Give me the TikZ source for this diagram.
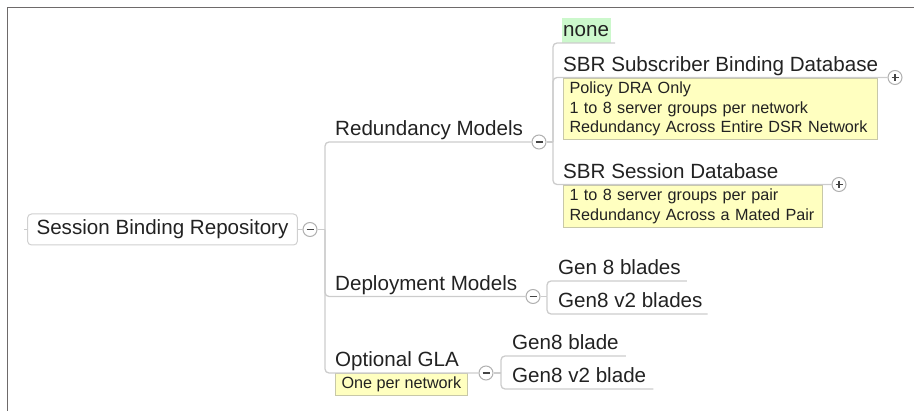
\documentclass[tikz,border=0pt]{standalone}
\usepackage{fontspec}
\setmainfont{Liberation Sans}

\definecolor{txt}{HTML}{222222}
\definecolor{linecol}{HTML}{CCCCCC}
\definecolor{boxline}{HTML}{D0D0D0}
\definecolor{foldline}{HTML}{B0B0B0}
\definecolor{signcol}{HTML}{444444}
\definecolor{notefill}{HTML}{FFFFC0}
\definecolor{notebd}{HTML}{C8C8A8}
\definecolor{nonefill}{HTML}{CCF8CC}
\definecolor{framecol}{HTML}{6E6A6A}

\tikzstyle{topic} = [inner sep=0pt, anchor=south west, text height=15pt, text depth=6pt, text=txt, font=\fontsize{20.6}{24}\selectfont]
\tikzstyle{rootbox} = [draw=boxline, line width=1pt, rounded corners=4pt, inner xsep=9pt, inner ysep=0pt, minimum height=31pt, text=txt, font=\fontsize{20.6}{24}\selectfont]
\tikzstyle{note} = [draw=notebd, line width=1pt, fill=notefill, anchor=north west, align=left, inner xsep=6pt, inner ysep=3.5pt, text=txt, font=\fontsize{16.2}{19.5}\selectfont]
\tikzstyle{branch} = [draw=linecol, line width=1.3pt, rounded corners=4pt]
\tikzstyle{fold} = [circle, draw=foldline, line width=1pt, fill=white, minimum size=14pt, inner sep=0pt]
\tikzstyle{foldminus} = [fold, path picture={\draw[signcol, line width=1.2pt] ([xshift=-3.5pt]path picture bounding box.center) -- ([xshift=3.5pt]path picture bounding box.center);}]
\tikzstyle{foldplus} = [fold, path picture={\draw[signcol, line width=1.1pt] ([xshift=-3.5pt]path picture bounding box.center) -- ([xshift=3.5pt]path picture bounding box.center) ([yshift=-3.5pt]path picture bounding box.center) -- ([yshift=3.5pt]path picture bounding box.center);}]

\begin{document}
\begin{tikzpicture}[x=1pt, y=-1pt]
      \useasboundingbox (0,0) rectangle (914,411);
      \draw[framecol, line width=1.5pt] (7.5,411) -- (7.5,7.5) -- (914,7.5);

      \node[rootbox] (sbr) at (162.5,229.5) {Session Binding Repository};
      \node[foldminus] (c0) at (310,229.5) {};
      \coordinate (j0) at (325,229.5);

      \node[topic] (red) at (335,142) {Redundancy Models};
      \node[foldminus] (c1) at (539,142) {};
      \node[topic] (dep) at (335,296.5) {Deployment Models};
      \node[foldminus] (c2) at (533,296.5) {};
      \node[topic] (gla) at (335,373) {Optional GLA};
      \node[foldminus] (c3) at (486,373) {};
      \node[note] (glanote) at (335,373) {One per network};

      \coordinate (j1) at (553,142);
      \node[topic, fill=nonefill, inner xsep=1.5pt, text height=19pt] (none) at (561.5,43) {none};
      \node[topic] (subdb) at (563,77.5) {SBR Subscriber Binding Database};
      \node[foldplus] (c4) at (895,77.5) {};
      \node[note, text width=302pt] (subnote) at (563,78) {Policy DRA Only\\1 to 8 server groups per network\\Redundancy Across Entire DSR Network};
      \node[topic] (sesdb) at (563,184.5) {SBR Session Database};
      \node[foldplus] (c5) at (839,184.5) {};
      \node[note, text width=247pt] (sesnote) at (563,185) {1 to 8 server groups per pair\\Redundancy Across a Mated Pair};

      \coordinate (j2) at (547,296.5);
      \node[topic] (gen8) at (558,281) {Gen 8 blades};
      \node[topic] (gen8v2) at (558,314) {Gen8 v2 blades};

      \coordinate (j3) at (501,373);
      \node[topic] (glagen8) at (512,356) {Gen8 blade};
      \node[topic] (glagen8v2) at (512,389) {Gen8 v2 blade};

      \draw[branch] (sbr.west) -- ++(-3,0);
      \draw[branch] (sbr.east) -- (c0.west);
      \draw[branch] (c0.east) -- (j0);
      \draw[branch] (j0) |- (c1.west);
      \draw[branch] (j0) |- (c2.west);
      \draw[branch] (j0) |- (c3.west);

      \draw[branch] (c1.east) -- (j1);
      \draw[branch] (j1) |- ([xshift=4.5pt]none.south east);
      \draw[branch] (j1) |- (c4.west);
      \draw[branch] (j1) |- (c5.west);

      \draw[branch] (c2.east) -- (j2);
      \draw[branch] (j2) |- ([xshift=6pt]gen8.south east);
      \draw[branch] (j2) |- ([xshift=5pt]gen8v2.south east);

      \draw[branch] (c3.east) -- (j3);
      \draw[branch] (j3) |- ([xshift=7pt]glagen8.south east);
      \draw[branch] (j3) |- ([xshift=7pt]glagen8v2.south east);
    \end{tikzpicture}
\end{document}
